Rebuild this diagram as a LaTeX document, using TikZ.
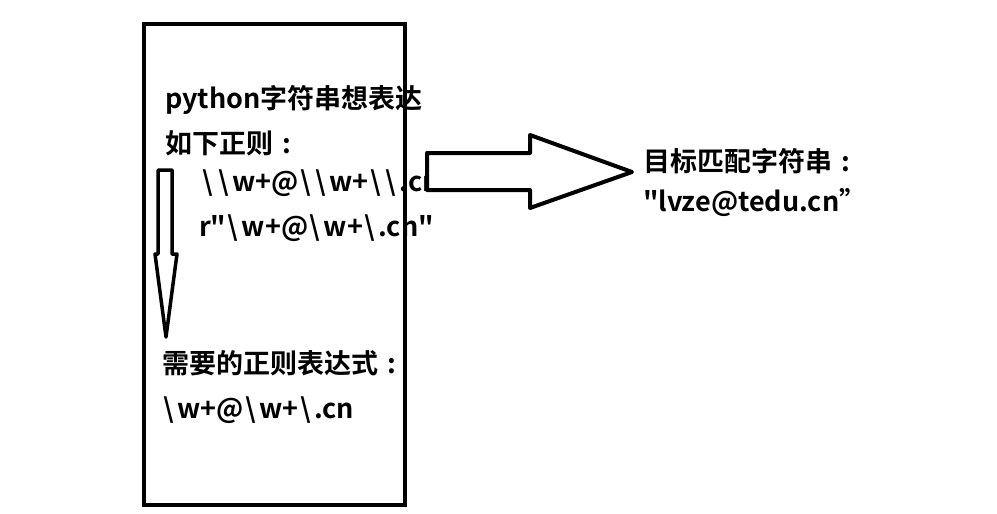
\documentclass[tikz,border=0pt]{standalone}
\usepackage{fontspec}
\setmainfont{Noto Sans CJK SC}[BoldFont=* Bold,Ligatures=TeXOff]
% a wider backslash
\newcommand\bsl{\kern1.5pt\textbackslash\kern3.5pt}
% a full-width colon with the dots in the middle of the cell
\newcommand\fwcolon{\makebox[1em][c]{:}}
\begin{document}
\begin{tikzpicture}[x=1pt,y=-1pt,
  txt/.style={anchor=base west,inner sep=0pt,font=\fontsize{27}{32}\selectfont\bfseries},
  frame/.style={draw=black,line width=4.5pt},
  bigarrow/.style={draw=black,fill=white,line width=4pt,line join=round}]
\useasboundingbox (0,0) rectangle (997,514);
% the box holding the regex explanation
\draw[frame] (144,24) rectangle (405,505);
% texts inside the box
\node[txt] (l1) at (165,108) {python字符串想表达};
\node[txt] (l2) at (165,153) {如下正则\fwcolon};
\node[txt] (l3) at (201,191) {\bsl\bsl w+@\bsl\bsl w+\bsl\bsl .cn};
\node[txt] (l4) at (199,236) {r"\bsl w+@\bsl w+\bsl .cn"};
\node[txt] (l5) at (162,373) {需要的正则表达式\fwcolon};
\node[txt] (l6) at (162,418) {\bsl w+@\bsl w+\bsl .cn};
% target string on the right
\node[txt] (r1) at (643,171) {目标匹配字符串\fwcolon};
\node[txt] (r2) at (643,211) {"lvze@tedu.cn”};
% block arrow pointing right
\draw[bigarrow] (427,153) -- (530,153) -- (530,135) -- (632,172) -- (530,208) -- (530,190) -- (427,190) -- cycle;
% block arrow pointing down
\draw[bigarrow,line width=3.5pt] (158,170) -- (172,170) -- (172,254) -- (177,254) -- (166,337) -- (155,254) -- (158,254) -- cycle;
\end{tikzpicture}
\end{document}
